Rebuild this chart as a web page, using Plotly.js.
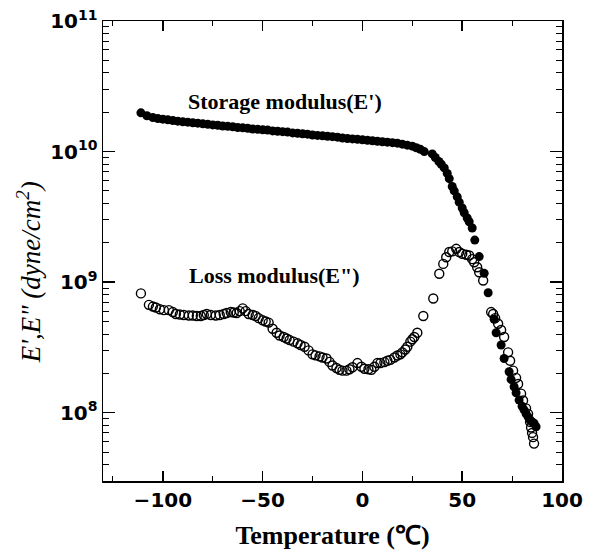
<!DOCTYPE html>
<html>
<head>
<meta charset="utf-8">
<script src="https://cdn.plot.ly/plotly-3.0.1.min.js"></script>
<style>html,body{margin:0;padding:0;background:#fff;}</style>
</head>
<body>
<div id="chart" style="width:589px;height:550px;"></div>
<script>
// Storage modulus E' (filled circles)
var storageT = [-111,-108,-105,-102.5,-100,-97.5,-95,-92.5,-90,-87.5,-85,-82.5,-80,-77.5,-75,-72.5,-70,-67.5,-65,-62.5,-60,-57.5,-55,-52.5,-50,-47.5,-45,-42.5,-40,-37.5,-35,-32.5,-30,-27.5,-25,-22.5,-20,-17.5,-15,-12.5,-10,-7.5,-5,-2.5,0,2.5,5,7.5,10,12.5,15,17.5,20,22.5,25,27,29,31,35,36.5,38.3,39.5,41,42.5,43.5,45,46,47.5,48.5,50,51,52.5,53.5,55,56.3,58.5,61,63,66,67,69.5,71,73.5,74.5,76,77,78.5,80,81,82,83,84,85,86,87];
var storageE = [1.98e10,1.88e10,1.82e10,1.79e10,1.77e10,1.75e10,1.73e10,1.71e10,1.69e10,1.68e10,1.66e10,1.65e10,1.63e10,1.62e10,1.60e10,1.59e10,1.57e10,1.56e10,1.55e10,1.53e10,1.52e10,1.51e10,1.49e10,1.48e10,1.47e10,1.46e10,1.44e10,1.43e10,1.42e10,1.41e10,1.39e10,1.38e10,1.37e10,1.36e10,1.34e10,1.33e10,1.32e10,1.31e10,1.30e10,1.29e10,1.27e10,1.26e10,1.25e10,1.24e10,1.23e10,1.22e10,1.21e10,1.20e10,1.19e10,1.18e10,1.17e10,1.16e10,1.14e10,1.12e10,1.10e10,1.07e10,1.04e10,1.00e10,9.6e9,9.0e9,8.4e9,8.0e9,7.5e9,6.8e9,6.2e9,5.4e9,5.0e9,4.5e9,4.1e9,3.7e9,3.4e9,3.1e9,2.9e9,2.6e9,2.1e9,1.57e9,1.17e9,8.3e8,5.2e8,4.1e8,3.3e8,2.6e8,2.06e8,1.8e8,1.58e8,1.42e8,1.25e8,1.12e8,1.05e8,9.8e7,9.3e7,8.8e7,8.5e7,8.3e7,7.8e7];

// Loss modulus E'' (open circles)
var lossT = [-111,-107,-105,-103.5,-101.5,-99.5,-97,-95,-93.5,-91.5,-89.5,-87,-85,-83,-81,-79.5,-78,-76,-73.5,-71.5,-69.5,-68,-66,-64.5,-63,-61.5,-60,-58.5,-57,-55,-53.5,-52,-50,-48.5,-47,-45,-43,-41.5,-39.5,-38,-36.5,-34.5,-32.5,-31,-29,-27,-25,-23.5,-21.5,-20,-18,-16.5,-15,-13,-11.5,-10,-8,-6.5,-5,-2.5,-0.5,1,3,4.5,6,7.5,9,11,12.5,14,16,17.5,19,20,21.5,22.5,24,25,26,27.5,30.5,35.5,38.5,40.5,42,43.5,45,47,48.5,50,52,53.5,55,56,57.5,58.5,60.5,64.5,65.5,66.5,68,69.5,71,73,74,75.5,77,78,79.5,80.5,82,83,84,84.5,85,85.5,86];
var lossE = [8.2e8,6.7e8,6.5e8,6.4e8,6.2e8,6.1e8,6.1e8,5.9e8,5.7e8,5.65e8,5.6e8,5.55e8,5.55e8,5.5e8,5.5e8,5.6e8,5.7e8,5.6e8,5.55e8,5.6e8,5.7e8,5.8e8,5.9e8,5.85e8,5.8e8,6.0e8,6.3e8,6.0e8,5.7e8,5.6e8,5.5e8,5.3e8,5.1e8,5.0e8,4.9e8,4.4e8,4.1e8,3.9e8,3.8e8,3.7e8,3.6e8,3.5e8,3.4e8,3.3e8,3.2e8,3.0e8,2.8e8,2.75e8,2.7e8,2.65e8,2.6e8,2.45e8,2.3e8,2.2e8,2.13e8,2.1e8,2.1e8,2.15e8,2.23e8,2.4e8,2.25e8,2.17e8,2.15e8,2.13e8,2.25e8,2.4e8,2.4e8,2.44e8,2.5e8,2.54e8,2.65e8,2.74e8,2.8e8,2.9e8,3.05e8,3.2e8,3.5e8,3.65e8,3.8e8,4.1e8,5.5e8,7.5e8,1.16e9,1.38e9,1.55e9,1.70e9,1.72e9,1.80e9,1.70e9,1.65e9,1.62e9,1.60e9,1.50e9,1.42e9,1.30e9,1.19e9,1.03e9,5.9e8,5.7e8,5.3e8,4.8e8,4.3e8,3.8e8,2.9e8,2.5e8,2.1e8,1.85e8,1.66e8,1.4e8,1.24e8,1.08e8,9.8e7,8.5e7,7.7e7,7.0e7,6.5e7,5.8e7];

var xTickVals = [-100,-50,0,50,100];
var xTickText = ['\u2212100','\u221250','0','50','100'];
var yTickVals = [1e8,1e9,1e10,1e11];
var yTickText = ['10<sup>8</sup>','10<sup>9</sup>','10<sup>10</sup>','10<sup>11</sup>'];

var yMinor = [];
for (var d = 7; d <= 10; d++) { for (var m = 2; m <= 9; m++) { yMinor.push(m * Math.pow(10, d)); } }

var traces = [
  {x: storageT, y: storageE, type: 'scatter', mode: 'markers', name: "Storage modulus(E')",
   marker: {symbol: 'circle', size: 9, color: 'black', line: {width: 0}}},
  {x: lossT, y: lossE, type: 'scatter', mode: 'markers', name: 'Loss modulus(E")',
   marker: {symbol: 'circle-open', size: 9, color: 'black', line: {width: 1.4, color: 'black'}}}
];

var tickFont = {family: 'DejaVu Sans, Arial, sans-serif', size: 20, color: 'black', weight: 'bold'};

var layout = {
  width: 589, height: 550,
  margin: {l: 103, r: 27, t: 21, b: 69},
  paper_bgcolor: 'white', plot_bgcolor: 'white',
  showlegend: false,
  xaxis: {
    range: [-130, 100], tickmode: 'array', tickvals: xTickVals, ticktext: xTickText,
    ticks: 'inside', ticklen: 10, tickwidth: 1.5, tickcolor: 'black',
    showline: true, linewidth: 1.5, linecolor: 'black', mirror: 'allticks',
    showgrid: false, zeroline: false,
    minor: {tickmode: 'linear', tick0: 0, dtick: 25, ticks: 'inside', ticklen: 5, tickwidth: 1, tickcolor: 'black', showgrid: false},
    tickfont: tickFont,
    title: {text: '<b>Temperature (\u2103)</b>', font: {family: 'Liberation Serif, Times New Roman, serif', size: 26, color: 'black'}, standoff: 18}
  },
  yaxis: {
    type: 'log', range: [7.477, 11], tickmode: 'array', tickvals: yTickVals, ticktext: yTickText,
    ticks: 'inside', ticklen: 12, tickwidth: 1.5, tickcolor: 'black',
    showline: true, linewidth: 1.5, linecolor: 'black', mirror: 'allticks',
    showgrid: false, zeroline: false,
    minor: {tickmode: 'array', tickvals: yMinor, ticks: 'inside', ticklen: 6, tickwidth: 1, tickcolor: 'black', showgrid: false},
    tickfont: tickFont
  },
  annotations: [
    {xref: 'paper', yref: 'paper', x: -0.161, y: 0.454, xanchor: 'center', yanchor: 'middle', textangle: -90, showarrow: false,
     text: '<i>E\',E" (dyne/cm<sup>2</sup>)</i>', font: {family: 'Liberation Serif, Times New Roman, serif', size: 27, color: 'black'}},
    {xref: 'paper', yref: 'paper', x: 0.3965, y: 0.826, xanchor: 'center', yanchor: 'middle', showarrow: false,
     text: '<b>Storage modulus(E\')</b>', font: {family: 'Liberation Serif, Times New Roman, serif', size: 22, color: 'black'}},
    {xref: 'paper', yref: 'paper', x: 0.3736, y: 0.4457, xanchor: 'center', yanchor: 'middle', showarrow: false,
     text: '<b>Loss modulus(E")</b>', font: {family: 'Liberation Serif, Times New Roman, serif', size: 22, color: 'black'}}
  ]
};

Plotly.newPlot('chart', traces, layout, {displayModeBar: false, staticPlot: true});
</script>
</body>
</html>
